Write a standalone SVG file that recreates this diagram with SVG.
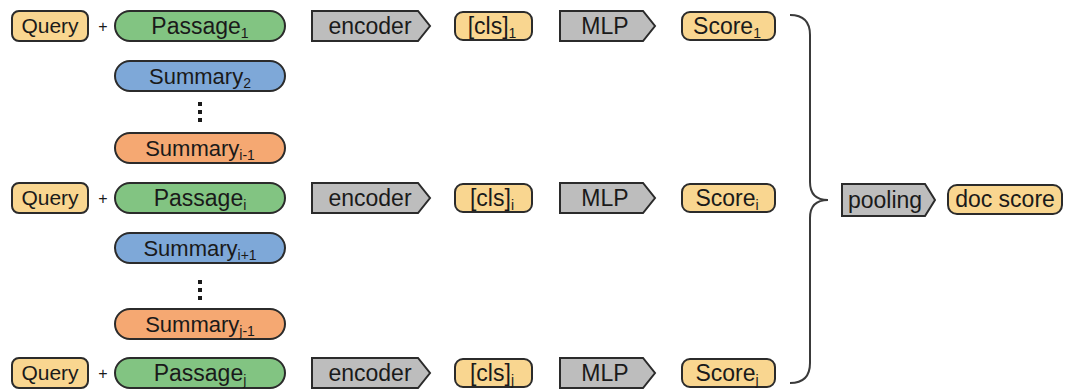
<svg xmlns="http://www.w3.org/2000/svg" width="1067" height="391" viewBox="0 0 1067 391">
  <style>
    .box { stroke: #2b2b2b; stroke-width: 2; }
    .yel { fill: #f9d690; }
    .grn { fill: #82c482; }
    .blu { fill: #7ea8d8; }
    .org { fill: #f5a872; }
    .gry { fill: #bdbdbd; }
    text { font-family: "Liberation Sans", Arial, sans-serif; fill: #1a1a1a; text-anchor: middle; }
    .t20 { font-size: 21px; }
    .t21 { font-size: 22px; }
    .t22 { font-size: 23px; }
    .sub { font-size: 14px; fill: #1a1a1a; }
    .plus { font-size: 16px; }
    .brace { fill: none; stroke: #3a3a3a; stroke-width: 2; }
  </style>

  <!-- row 1 -->
  <g id="query1"><rect class="box yel" x="12" y="11" width="76" height="30" rx="7"/><text class="t20" x="50" y="33">Query</text></g>
  <text class="plus" x="103" y="32">+</text>
  <g id="passage1"><rect class="box grn" x="115" y="11" width="170" height="30" rx="15"/><text class="t22" x="200" y="34">Passage<tspan class="sub" dy="4">1</tspan></text></g>
  <g id="encoder1"><polygon class="box gry" points="312,11 418,11 430,26 418,41 312,41"/><text class="t22" x="370" y="34">encoder</text></g>
  <g id="cls1"><rect class="box yel" x="455" y="12" width="77" height="28" rx="8"/><text class="t22" x="492" y="34">[cls]<tspan class="sub" dy="4">1</tspan></text></g>
  <g id="mlp1"><polygon class="box gry" points="560,11 643,11 655,26 643,41 560,41"/><text class="t22" x="605" y="34">MLP</text></g>
  <g id="score1"><rect class="box yel" x="682" y="12" width="93" height="28" rx="8"/><text class="t22" x="727" y="34">Score<tspan class="sub" dy="4">1</tspan></text></g>

  <g id="summary2"><rect class="box blu" x="115" y="61" width="170" height="30" rx="15"/><text class="t21" x="200" y="84">Summary<tspan class="sub" dy="4">2</tspan></text></g>
  <g id="dots1" fill="#1a1a1a"><rect x="198" y="102" width="4" height="4"/><rect x="198" y="110" width="4" height="4"/><rect x="198" y="118" width="4" height="4"/></g>
  <g id="summary_i-1"><rect class="box org" x="115" y="133" width="170" height="30" rx="15"/><text class="t21" x="200" y="156">Summary<tspan class="sub" dy="4">i-1</tspan></text></g>

  <!-- row i -->
  <g id="query_i"><rect class="box yel" x="12" y="183" width="76" height="30" rx="7"/><text class="t20" x="50" y="205">Query</text></g>
  <text class="plus" x="103" y="204">+</text>
  <g id="passage_i"><rect class="box grn" x="115" y="183" width="170" height="30" rx="15"/><text class="t22" x="200" y="206">Passage<tspan class="sub" dy="4">i</tspan></text></g>
  <g id="encoder_i"><polygon class="box gry" points="312,183 418,183 430,198 418,213 312,213"/><text class="t22" x="370" y="206">encoder</text></g>
  <g id="cls_i"><rect class="box yel" x="455" y="184" width="77" height="28" rx="8"/><text class="t22" x="492" y="206">[cls]<tspan class="sub" dy="4">i</tspan></text></g>
  <g id="mlp_i"><polygon class="box gry" points="560,183 643,183 655,198 643,213 560,213"/><text class="t22" x="605" y="206">MLP</text></g>
  <g id="score_i"><rect class="box yel" x="682" y="184" width="93" height="28" rx="8"/><text class="t22" x="727" y="206">Score<tspan class="sub" dy="4">i</tspan></text></g>

  <g id="summary_i+1"><rect class="box blu" x="115" y="233" width="170" height="30" rx="15"/><text class="t21" x="200" y="256">Summary<tspan class="sub" dy="4">i+1</tspan></text></g>
  <g id="dots2" fill="#1a1a1a"><rect x="198" y="280" width="4" height="4"/><rect x="198" y="288" width="4" height="4"/><rect x="198" y="296" width="4" height="4"/></g>
  <g id="summary_j-1"><rect class="box org" x="115" y="309" width="170" height="30" rx="15"/><text class="t21" x="200" y="332">Summary<tspan class="sub" dy="4">j-1</tspan></text></g>

  <!-- row j -->
  <g id="query_j"><rect class="box yel" x="12" y="358" width="76" height="30" rx="7"/><text class="t20" x="50" y="380">Query</text></g>
  <text class="plus" x="103" y="379">+</text>
  <g id="passage_j"><rect class="box grn" x="115" y="358" width="170" height="30" rx="15"/><text class="t22" x="200" y="381">Passage<tspan class="sub" dy="4">j</tspan></text></g>
  <g id="encoder_j"><polygon class="box gry" points="312,358 418,358 430,373 418,388 312,388"/><text class="t22" x="370" y="381">encoder</text></g>
  <g id="cls_j"><rect class="box yel" x="455" y="359" width="77" height="28" rx="8"/><text class="t22" x="492" y="381">[cls]<tspan class="sub" dy="4">j</tspan></text></g>
  <g id="mlp_j"><polygon class="box gry" points="560,358 643,358 655,373 643,388 560,388"/><text class="t22" x="605" y="381">MLP</text></g>
  <g id="score_j"><rect class="box yel" x="682" y="359" width="93" height="28" rx="8"/><text class="t22" x="727" y="381">Score<tspan class="sub" dy="4">j</tspan></text></g>

  <!-- brace gathering all scores -->
  <g id="connectors">
    <path class="brace" d="M790,15 Q810,15 810,35 L810,182 Q810,200 828,200 Q810,200 810,218 L810,363 Q810,383 790,383"/>
  </g>

  <g id="pooling"><polygon class="box gry" points="842,184 925,184 935,200 925,216 842,216"/><text class="t22" x="885" y="208">pooling</text></g>
  <g id="docscore"><rect class="box yel" x="948" y="185" width="114" height="29" rx="9"/><text class="t22" x="1005" y="207">doc score</text></g>
</svg>
